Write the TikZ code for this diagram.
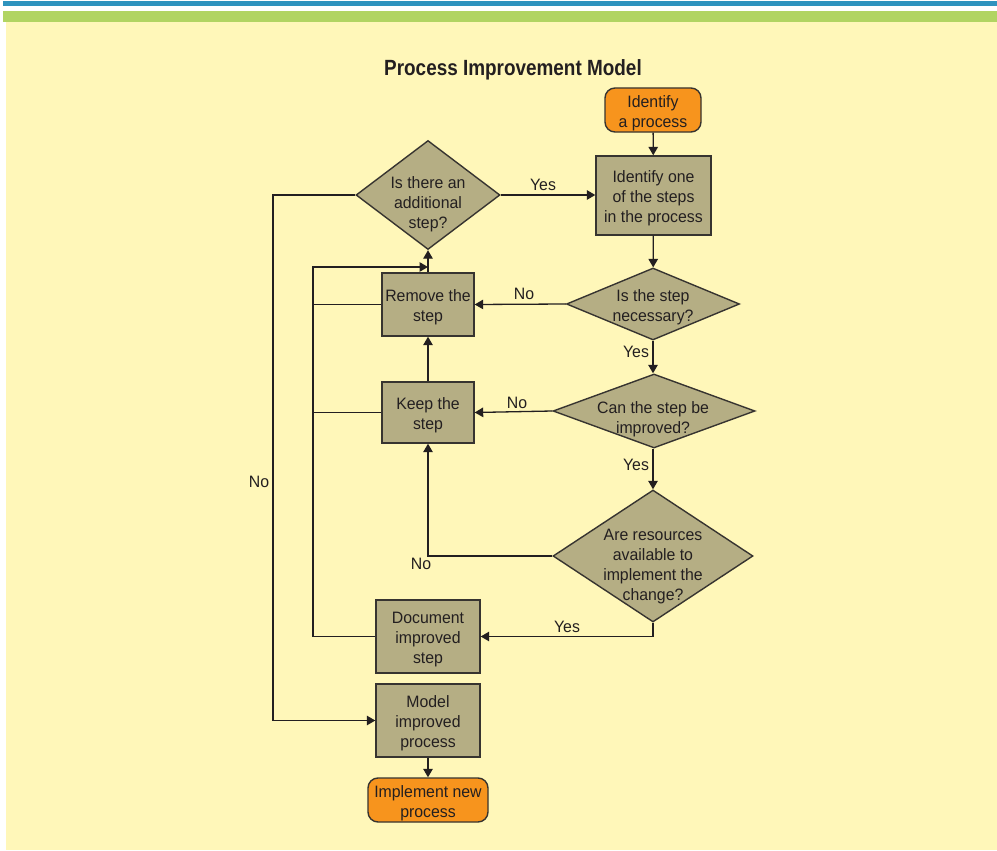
\documentclass[tikz,border=0pt]{standalone}
\usepackage{fontspec}
\setmainfont{Liberation Sans}[FakeStretch=0.96]
\newfontfamily\titlefont{Liberation Sans}[FakeStretch=0.86]
\usetikzlibrary{shapes.geometric,arrows.meta}

\definecolor{paper}{RGB}{255,247,185}
\definecolor{barblue}{RGB}{46,147,190}
\definecolor{bargreen}{RGB}{177,212,98}
\definecolor{stepfill}{RGB}{181,174,132}
\definecolor{termorange}{RGB}{247,148,29}
\definecolor{ink}{RGB}{35,31,32}
\definecolor{boxline}{RGB}{55,52,48}

\newcommand\nodefont{\fontsize{16.5pt}{20pt}\selectfont}

\tikzset{
  stepbox/.style={rectangle, draw=boxline, line width=1.4pt, fill=stepfill,
    inner sep=0pt},
  termbox/.style={stepbox, fill=termorange, rounded corners=10pt},
  decision/.style={diamond, draw=boxline, line width=1.4pt, fill=stepfill,
    inner sep=0pt},
  dtext/.style={align=center, text=ink, font=\nodefont, inner sep=0pt},
  boxlabel/.style={dtext, yshift=-3pt},
  flow/.style={draw=ink, line width=1.3pt},
  arrowflow/.style={flow, -{Triangle[length=8.5pt,width=9.5pt]}},
  answer/.style={text=ink, font=\nodefont, inner sep=0pt},
}

\begin{document}
\begin{tikzpicture}[x=1pt,y=-1pt]
  \useasboundingbox (0,0) rectangle (997,851);
  % page background and header bars
  \fill[white] (0,0) rectangle (997,851);
  \fill[barblue] (3,1) rectangle (997,6);
  \fill[bargreen] (3,11) rectangle (997,22);
  \fill[paper] (6,22) rectangle (997,850);

  \node[anchor=base, text=ink, font=\titlefont\bfseries\fontsize{22pt}{26pt}\selectfont]
    (title) at (513,75.5) {Process Improvement Model};

  % boxes
  \node[termbox, minimum width=96pt, minimum height=44pt,
    label={[boxlabel]center:Identify\\a process}] (start) at (653,110) {};
  \node[stepbox, minimum width=115pt, minimum height=79pt,
    label={[boxlabel]center:Identify one\\of the steps\\in the process}] (ident) at (653.5,195.5) {};
  \node[stepbox, minimum width=92pt, minimum height=63pt,
    label={[boxlabel]center:Remove the\\step}] (remove) at (428,304.5) {};
  \node[stepbox, minimum width=92pt, minimum height=61pt,
    label={[boxlabel]center:Keep the\\step}] (keep) at (428,412.5) {};
  \node[stepbox, minimum width=104pt, minimum height=73pt,
    label={[boxlabel]center:Document\\improved\\step}] (doc) at (428,636.5) {};
  \node[stepbox, minimum width=104pt, minimum height=73pt,
    label={[boxlabel]center:Model\\improved\\process}] (model) at (428,720.5) {};
  \node[termbox, minimum width=120pt, minimum height=44pt,
    label={[boxlabel]center:Implement new\\process}] (impl) at (428,800) {};

  % decisions
  \node[decision, minimum width=144pt, minimum height=109pt] (dAdd) at (428,195) {};
  \node[dtext] (tAdd) at (428,204) {Is there an\\additional\\step?};
  \node[decision, minimum width=173pt, minimum height=72pt] (dNec) at (653,304) {};
  \node[dtext] (tNec) at (653,307) {Is the step\\necessary?};
  \node[decision, minimum width=202pt, minimum height=74pt] (dImp) at (654,411) {};
  \node[dtext] (tImp) at (653,419) {Can the step be\\improved?};
  \node[decision, minimum width=200pt, minimum height=132pt] (dRes) at (653,556) {};
  \node[dtext] (tRes) at (653,567) {Are resources\\available to\\implement the\\change?};

  % helper points of the loops on the left
  \coordinate (loopTop) at (313,267);
  \coordinate (loopJoin) at (428,267);
  \coordinate (noCorner) at (273,195);

  % main flow
  \draw[arrowflow] (start) -- (ident);
  \draw[arrowflow] (ident) -- (dNec);
  \draw[arrowflow] (dNec.west) -- (remove.east);
  \draw[arrowflow] (dNec.south) -- (dImp.north -| dNec.south);
  \draw[arrowflow] (dImp.west) -- (keep.east);
  \draw[arrowflow] (dImp.south -| dNec.south) -- (dRes.north);
  \draw[arrowflow] (dRes.west) -| (keep.south);
  \draw[arrowflow] (dRes.south) |- (doc.east);
  \draw[arrowflow] (keep.north) -- (remove.south);
  \draw[arrowflow] (remove.north) -- (dAdd.south);
  \draw[arrowflow] (dAdd.east) -- (ident.west |- dAdd.east);
  \draw[arrowflow] (dAdd.west) -- (noCorner) |- (model.west);
  \draw[arrowflow] (model) -- (impl);

  % return loop back to the next-step question
  \draw[arrowflow] (doc.west) -| (loopTop) -- (loopJoin);
  \draw[flow] (remove.west) -- (remove.west -| loopTop);
  \draw[flow] (keep.west) -- (keep.west -| loopTop);

  % answers
  \node[answer] (aYes1) at (543,185) {Yes};
  \node[answer] (aNo1) at (524,294) {No};
  \node[answer] (aYes2) at (636,352) {Yes};
  \node[answer] (aNo2) at (517,403) {No};
  \node[answer] (aYes3) at (636,465) {Yes};
  \node[answer] (aNo3) at (421,564) {No};
  \node[answer] (aYes4) at (567,627) {Yes};
  \node[answer] (aNo4) at (259,482) {No};
\end{tikzpicture}
\end{document}
